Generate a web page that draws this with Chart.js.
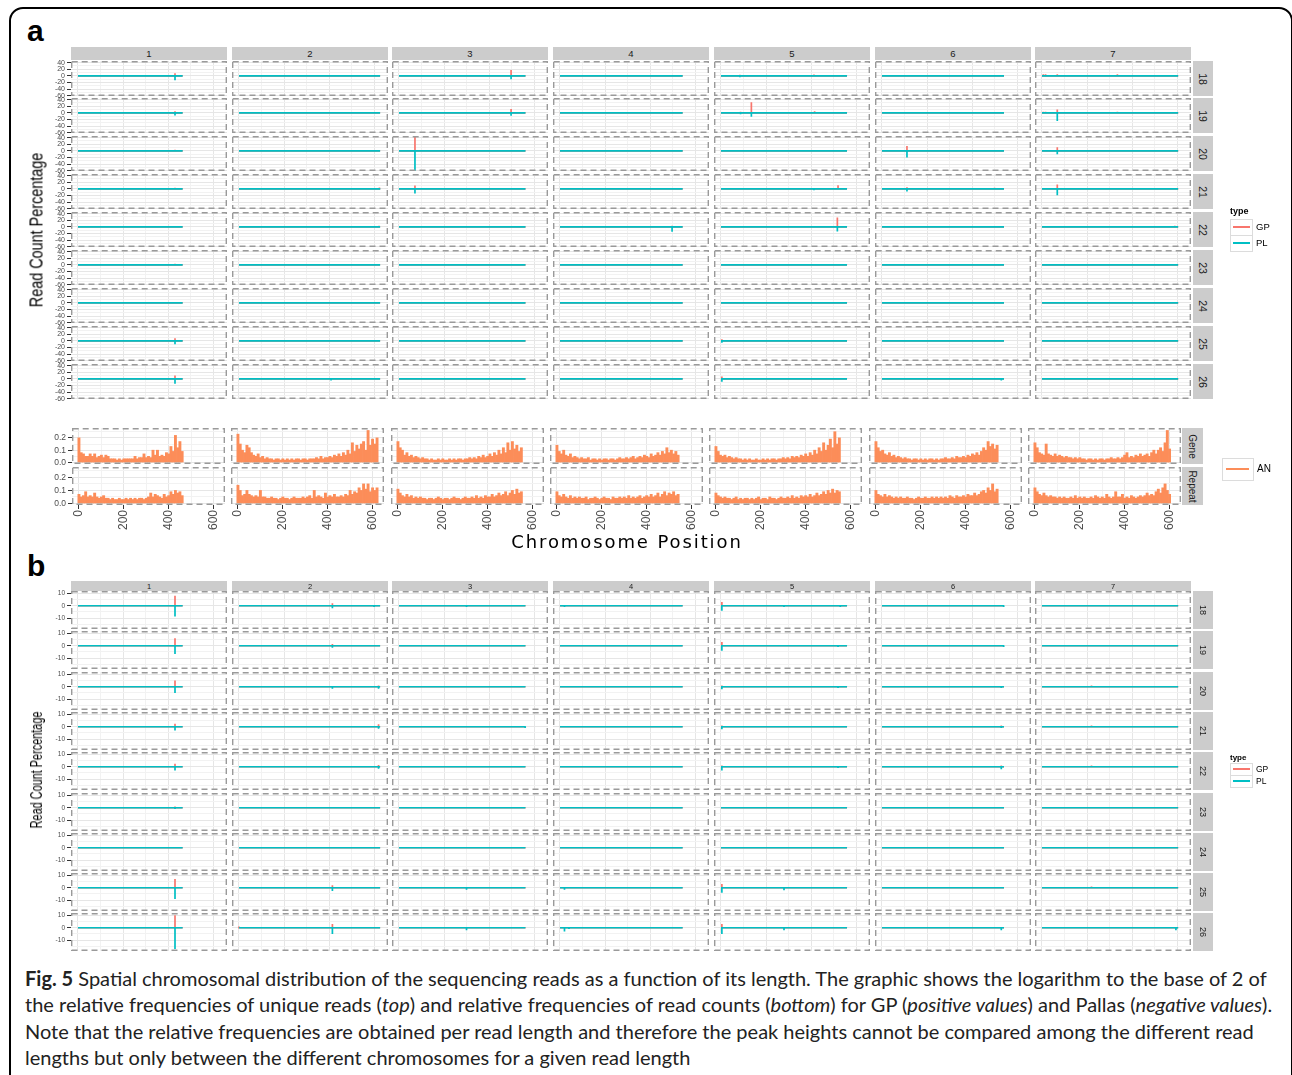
<!DOCTYPE html>
<html><head><meta charset="utf-8">
<script src="https://cdn.jsdelivr.net/npm/chart.js@4/dist/chart.umd.min.js"></script>
<style>
html,body{margin:0;padding:0;background:#fff;}
body{width:1292px;height:1075px;overflow:hidden;position:relative;font-family:'Liberation Sans',Arial,sans-serif;}
canvas{position:absolute;}
.abs{position:absolute;}
.strip{position:absolute;background:#cccccc;color:#1a1a1a;display:flex;align-items:center;justify-content:center;}
.rot{display:inline-block;transform:rotate(90deg);white-space:nowrap;}
.cap{position:absolute;left:25px;font-family:Lato,'Open Sans',sans-serif;font-size:20px;color:#222;white-space:nowrap;line-height:26px;}
</style>
</head><body>
<script>
// ---------------- DATA ----------------
const chromosomes = ['1','2','3','4','5','6','7'];
const readLengths = [18,19,20,21,22,23,24,25,26];
const chromLength = [465,627,562,545,560,542,605];
const xTicks = [0,200,400,600];
const xGrid = [0,100,200,300,400,500,600];
const yTicksTop = [-60,-40,-20,0,20,40];
const yGridTop = [-60,-50,-40,-30,-20,-10,0,10,20,30,40];
const yTicksBottom = [-10,0,10];
const yGridBottom = [-15,-10,-5,0,5,10];
const yTicksAN = [0,0.1,0.2];
const yGridAN = [0,0.05,0.1,0.15,0.2,0.25];
const seriesNames = ['GP','PL'];
const anRows = ['Gene','Repeat'];

// peaks: [readLength, chromosome, position, GP value, PL value]
const peaksTop = [
 [18,1,431,8,-13],[18,2,409,1,-2],[18,2,600,1,-1],[18,3,74,0,-2],[18,3,297,1,-1],[18,3,498,18,-10],[18,4,119,1,-2],
 [18,5,4,0,-2],[18,5,84,3,-4],[18,5,413,4,-3],[18,6,380,0,-1],[18,7,6,5,-1],[18,7,16,5,-1],[18,7,68,5,-3],[18,7,335,5,-1],
 [19,1,431,5,-8],[19,3,498,12,-9],[19,4,119,0,-1],[19,5,4,0,-3],[19,5,87,3,-4],[19,5,135,32,-12],[19,5,416,5,-2],
 [19,7,6,3,-1],[19,7,16,3,-1],[19,7,68,10,-25],[19,7,335,3,0],
 [20,1,431,3,-1],[20,3,71,43,-60],[20,3,498,2,0],[20,5,87,0,-2],[20,5,416,0,-2],[20,6,111,15,-20],[20,7,68,11,-10],[20,7,335,1,0],
 [21,1,90,0,-2],[21,1,220,0,-1],[21,1,431,3,-1],[21,2,560,0,-2],[21,2,624,4,-2],[21,3,71,10,-14],[21,3,541,0,-3],[21,4,530,0,-2],
 [21,5,413,0,-4],[21,5,492,0,-3],[21,5,520,11,-3],[21,6,111,5,-8],[21,6,380,0,-2],[21,6,500,3,-3],[21,7,68,13,-19],[21,7,150,0,-1],[21,7,520,0,-1],
 [22,1,50,0,-2],[22,1,431,2,-3],[22,2,622,3,-3],[22,3,541,2,-3],[22,4,498,3,-15],[22,5,4,0,-3],[22,5,517,28,-14],[22,6,500,0,-3],[22,7,150,1,-1],[22,7,590,3,-1],
 [23,1,431,3,-2],[23,5,517,2,-2],[23,7,150,1,-1],
 [25,1,431,8,-10],[25,2,409,0,-2],[25,3,297,0,-2],[25,5,4,5,-6],[25,5,280,0,-1],[25,6,530,0,-3],[25,7,200,0,-1],
 [26,1,431,10,-15],[26,2,409,0,-5],[26,3,297,0,-3],[26,3,540,0,-1],[26,4,20,0,-2],[26,5,4,7,-9],[26,5,280,0,-2],[26,6,530,0,-5],[26,7,595,0,-2]
];
const peaksBottom = [
 [18,1,150,0,-0.5],[18,1,431,8,-8.5],[18,2,415,2,-2],[18,2,600,0,-1],[18,3,300,0,-1],[18,4,20,0,-1],[18,5,4,3,-4],[18,5,280,0,-1],[18,5,530,0,-1],[18,6,540,0,-1],
 [19,1,431,6,-6.5],[19,2,415,1.5,-1.5],[19,5,4,3,-4],[19,5,520,0,-1],[19,6,540,0,-1],
 [20,1,431,5,-5],[20,2,415,0,-1.5],[20,2,620,1,-1.5],[20,5,4,1,-2],[20,5,520,0,-1],[20,6,530,0,-1],[20,7,220,1,0],
 [21,1,431,2.5,-3],[21,2,620,2,-1.5],[21,3,560,0,-1],[21,5,4,1,-2],[21,6,530,1,-1],[21,7,220,1,0],
 [22,1,431,2.5,-3],[22,2,620,1.5,-1.5],[22,5,4,1,-3],[22,5,520,0,-1],[22,6,530,1,-2],[22,7,220,1,0],
 [23,1,431,1,-1],
 [25,1,431,7,-9],[25,2,415,2,-2.5],[25,3,300,0,-1.5],[25,4,20,0,-1.5],[25,5,4,3,-4],[25,5,280,0,-2],[25,7,220,1,0],
 [26,1,431,10,-17],[26,2,0,1,0],[26,2,415,3,-5],[26,3,300,0,-2],[26,4,20,0,-3],[26,4,40,0,-1],[26,5,4,3,-5],[26,5,280,0,-2],[26,6,530,0,-2],[26,7,595,0,-2]
];

// AN histograms, bins of 10 starting at 0
const geneAN1 = [0.20,0.08,0.07,0.05,0.05,0.07,0.05,0.07,0.04,0.05,0.06,0.04,0.06,0.05,0.03,0.03,0.03,0.02,0.03,0.02,0.03,0.03,0.03,0.03,0.03,0.05,0.03,0.04,0.04,0.07,0.04,0.05,0.04,0.10,0.06,0.10,0.05,0.06,0.05,0.08,0.07,0.13,0.09,0.22,0.12,0.17,0.09];
const repeatAN1 = [0.07,0.05,0.06,0.09,0.05,0.06,0.05,0.08,0.05,0.04,0.05,0.06,0.04,0.04,0.03,0.04,0.03,0.03,0.04,0.03,0.03,0.04,0.03,0.04,0.03,0.04,0.03,0.04,0.04,0.03,0.04,0.05,0.08,0.05,0.07,0.06,0.05,0.04,0.07,0.05,0.06,0.09,0.07,0.10,0.08,0.09,0.06];
const geneAN2 = [0.23,0.15,0.10,0.08,0.14,0.12,0.08,0.06,0.05,0.07,0.04,0.05,0.03,0.04,0.03,0.03,0.02,0.03,0.03,0.02,0.03,0.02,0.03,0.02,0.03,0.02,0.03,0.03,0.02,0.03,0.03,0.02,0.03,0.03,0.03,0.04,0.03,0.05,0.03,0.04,0.04,0.05,0.04,0.06,0.05,0.07,0.05,0.08,0.06,0.10,0.07,0.16,0.09,0.14,0.11,0.15,0.17,0.10,0.26,0.14,0.19,0.15,0.20];
const repeatAN2 = [0.14,0.10,0.06,0.07,0.10,0.07,0.06,0.05,0.06,0.05,0.10,0.05,0.05,0.04,0.04,0.05,0.04,0.04,0.03,0.04,0.05,0.04,0.04,0.03,0.04,0.05,0.04,0.04,0.04,0.05,0.04,0.05,0.06,0.04,0.10,0.05,0.06,0.05,0.04,0.08,0.05,0.06,0.05,0.07,0.05,0.05,0.06,0.05,0.07,0.06,0.10,0.07,0.09,0.08,0.12,0.10,0.15,0.11,0.15,0.09,0.12,0.10,0.12];
const geneAN3 = [0.17,0.12,0.10,0.06,0.08,0.05,0.06,0.04,0.05,0.04,0.03,0.04,0.03,0.03,0.02,0.03,0.02,0.02,0.03,0.02,0.03,0.02,0.02,0.03,0.02,0.03,0.02,0.03,0.03,0.02,0.03,0.03,0.04,0.03,0.04,0.03,0.05,0.04,0.06,0.04,0.05,0.07,0.05,0.08,0.06,0.10,0.07,0.12,0.08,0.16,0.10,0.17,0.11,0.14,0.09,0.12];
const repeatAN3 = [0.11,0.08,0.06,0.05,0.07,0.05,0.06,0.04,0.05,0.04,0.05,0.04,0.04,0.03,0.04,0.04,0.03,0.04,0.05,0.04,0.03,0.04,0.04,0.03,0.04,0.05,0.04,0.04,0.03,0.04,0.05,0.04,0.04,0.05,0.04,0.06,0.04,0.05,0.04,0.06,0.05,0.05,0.07,0.05,0.06,0.08,0.06,0.07,0.09,0.06,0.08,0.10,0.07,0.11,0.08,0.09];
const geneAN4 = [0.14,0.09,0.07,0.10,0.06,0.05,0.07,0.04,0.05,0.04,0.03,0.04,0.03,0.03,0.04,0.02,0.03,0.03,0.02,0.03,0.02,0.03,0.03,0.02,0.03,0.03,0.02,0.03,0.04,0.03,0.03,0.04,0.03,0.04,0.05,0.03,0.04,0.05,0.04,0.06,0.05,0.04,0.07,0.05,0.06,0.08,0.06,0.09,0.07,0.12,0.08,0.10,0.07,0.09,0.06];
const repeatAN4 = [0.09,0.06,0.05,0.07,0.05,0.04,0.06,0.04,0.05,0.04,0.05,0.04,0.04,0.05,0.03,0.04,0.04,0.05,0.04,0.03,0.04,0.05,0.04,0.04,0.03,0.05,0.04,0.04,0.05,0.04,0.05,0.04,0.06,0.04,0.05,0.04,0.05,0.06,0.04,0.05,0.06,0.05,0.07,0.05,0.06,0.08,0.05,0.07,0.09,0.06,0.08,0.07,0.09,0.06,0.07];
const geneAN5 = [0.13,0.09,0.06,0.05,0.06,0.04,0.05,0.04,0.03,0.04,0.03,0.03,0.02,0.03,0.02,0.03,0.02,0.02,0.03,0.02,0.02,0.03,0.02,0.03,0.02,0.03,0.03,0.02,0.03,0.03,0.04,0.03,0.04,0.03,0.05,0.04,0.05,0.04,0.06,0.05,0.07,0.05,0.08,0.06,0.10,0.07,0.12,0.09,0.16,0.10,0.14,0.19,0.12,0.25,0.15,0.20];
const repeatAN5 = [0.08,0.06,0.05,0.04,0.05,0.04,0.04,0.03,0.04,0.05,0.03,0.04,0.03,0.04,0.04,0.03,0.04,0.03,0.04,0.05,0.03,0.04,0.04,0.03,0.05,0.04,0.04,0.03,0.04,0.05,0.04,0.04,0.05,0.04,0.06,0.04,0.05,0.04,0.06,0.05,0.06,0.05,0.07,0.05,0.06,0.08,0.06,0.07,0.09,0.07,0.10,0.08,0.11,0.08,0.10,0.09];
const geneAN6 = [0.17,0.12,0.09,0.10,0.07,0.06,0.08,0.05,0.06,0.04,0.05,0.04,0.03,0.04,0.03,0.03,0.02,0.03,0.03,0.02,0.03,0.02,0.03,0.02,0.03,0.03,0.02,0.03,0.02,0.03,0.03,0.04,0.03,0.03,0.04,0.03,0.05,0.04,0.04,0.05,0.04,0.06,0.05,0.07,0.06,0.08,0.06,0.09,0.12,0.10,0.17,0.13,0.15,0.11,0.14];
const repeatAN6 = [0.10,0.07,0.06,0.05,0.07,0.05,0.06,0.05,0.04,0.05,0.04,0.05,0.04,0.04,0.05,0.04,0.04,0.03,0.04,0.05,0.04,0.04,0.05,0.04,0.04,0.05,0.04,0.05,0.04,0.05,0.04,0.05,0.04,0.06,0.05,0.04,0.06,0.05,0.05,0.06,0.05,0.07,0.06,0.06,0.08,0.06,0.07,0.09,0.10,0.08,0.12,0.10,0.15,0.09,0.11];
const geneAN7 = [0.16,0.12,0.08,0.07,0.06,0.15,0.07,0.06,0.05,0.07,0.05,0.06,0.05,0.04,0.05,0.04,0.04,0.03,0.04,0.03,0.04,0.03,0.03,0.02,0.03,0.03,0.02,0.03,0.02,0.03,0.03,0.02,0.03,0.03,0.04,0.03,0.03,0.04,0.03,0.04,0.06,0.08,0.04,0.05,0.04,0.06,0.05,0.07,0.05,0.06,0.07,0.05,0.08,0.10,0.07,0.10,0.12,0.09,0.16,0.26,0.11];
const repeatAN7 = [0.12,0.09,0.07,0.06,0.08,0.06,0.05,0.06,0.05,0.05,0.04,0.05,0.04,0.05,0.04,0.04,0.05,0.04,0.06,0.04,0.05,0.04,0.05,0.04,0.04,0.05,0.04,0.06,0.05,0.04,0.05,0.04,0.07,0.05,0.04,0.05,0.09,0.05,0.05,0.07,0.04,0.05,0.04,0.06,0.05,0.04,0.05,0.06,0.05,0.06,0.08,0.06,0.07,0.06,0.09,0.11,0.08,0.12,0.15,0.10,0.07];
const geneAN = [geneAN1,geneAN2,geneAN3,geneAN4,geneAN5,geneAN6,geneAN7];
const repeatAN = [repeatAN1,repeatAN2,repeatAN3,repeatAN4,repeatAN5,repeatAN6,repeatAN7];
const binWidth = 10;

// ---------------- STYLE / LAYOUT ----------------
const GP_COLOR = '#F8766D', PL_COLOR = '#00BFC4', AN_COLOR = '#FC8D59';
const FONT = "'Liberation Sans', Arial, sans-serif";
const M = 8; // canvas margin around each panel

function addEl(tag, cls, css, html){
  const e = document.createElement(tag);
  if (cls) e.className = cls;
  e.style.cssText = css;
  if (html !== undefined) e.innerHTML = html;
  document.body.appendChild(e);
  return e;
}
function makeCanvas(left, top, w, h){
  const c = document.createElement('canvas');
  c.width = w; c.height = h;
  c.style.cssText = `left:${left}px;top:${top}px;width:${w}px;height:${h}px`;
  document.body.appendChild(c);
  return c;
}
const dashBorder = {
  id:'dashBorder',
  afterDraw(chart){
    const {ctx, chartArea:a} = chart;
    ctx.save();
    ctx.strokeStyle = '#9a9a9a'; ctx.lineWidth = 1.4; ctx.setLineDash([6,4]);
    ctx.strokeRect(a.left+0.7, a.top+0.7, a.right-a.left-1.4, a.bottom-a.top-1.4);
    ctx.restore();
  }
};

function facet(o){
  const padL = o.showY ? o.axisW : 0;
  const padB = o.showX ? o.axisH : 0;
  const cw = o.w + padL + 2*M, ch = o.h + padB + 2*M;
  const canvas = makeCanvas(o.left - padL - M, o.top - M, cw, ch);
  const yLab = o.yTicks, yGrid = o.yGrid;
  new Chart(canvas, {
    type: o.type,
    data: { datasets: o.datasets },
    options: {
      animation:false, responsive:false, devicePixelRatio:1, events:[],
      layout:{ padding:{ left:M, right:M, top:M, bottom:M } },
      plugins:{ legend:{display:false}, tooltip:{enabled:false} },
      scales:{
        x:{ type:'linear', min:o.xmin, max:o.xmax, offset:false,
          afterBuildTicks: s => { s.ticks = xGrid.map(v => ({value:v})); },
          afterFit: s => { s.height = padB; },
          ticks:{ display:!!o.showX, autoSkip:false, minRotation:90, maxRotation:90, padding:1,
            font:{size:12, family:FONT}, color:'#4d4d4d',
            callback: v => xTicks.includes(v) ? String(v) : '' },
          grid:{ offset:false, color: c => (c.tick && c.tick.value % 200 === 0) ? '#e6e6e6' : '#f2f2f2', lineWidth:1,
            drawTicks:!!o.showX, tickLength:4, tickWidth:1,
            tickColor: c => (c.tick && xTicks.includes(c.tick.value)) ? '#333' : 'rgba(0,0,0,0)' },
          border:{display:false}
        },
        y:{ type:'linear', min:o.ymin, max:o.ymax,
          afterBuildTicks: s => { s.ticks = yGrid.map(v => ({value:v})); },
          afterFit: s => { s.width = padL; },
          ticks:{ display:!!o.showY, autoSkip:false, padding:o.tickPad || 2,
            font:{size:o.tickFont, family:FONT}, color:'#4d4d4d',
            callback: v => yLab.includes(v) ? (o.fmt ? o.fmt(v) : String(v)) : '' },
          grid:{ color: c => (c.tick && yLab.includes(c.tick.value)) ? '#e6e6e6' : '#f2f2f2', lineWidth:1,
            drawTicks:!!o.showY, tickLength:4, tickWidth:1,
            tickColor: c => (c.tick && yLab.includes(c.tick.value)) ? '#333' : 'rgba(0,0,0,0)' },
          border:{display:false}
        }
      }
    },
    plugins:[dashBorder]
  });
}

function seriesFor(peaks, row, col, idx){
  const pts = [{x:0, y:0}];
  peaks.filter(p => p[0] === row && p[1] === col && p[idx] !== 0)
       .sort((a,b) => a[2]-b[2])
       .forEach(p => { pts.push({x:p[2],y:0},{x:p[2],y:p[idx]},{x:p[2],y:0}); });
  pts.push({x:chromLength[col-1], y:0});
  return pts;
}
function lineDatasets(peaks, row, col){
  // PL first so it is drawn on top
  return [
    { label:seriesNames[1], data:seriesFor(peaks,row,col,4), borderColor:PL_COLOR, borderWidth:1.7, showLine:true, pointRadius:0, tension:0 },
    { label:seriesNames[0], data:seriesFor(peaks,row,col,3), borderColor:GP_COLOR, borderWidth:1.7, showLine:true, pointRadius:0, tension:0 }
  ];
}

// ---------------- FRAME & LABELS ----------------
addEl('div','abs','left:9px;top:7px;width:1280px;height:1100px;border:2px solid #000;border-radius:14px;');
addEl('div','abs','left:27px;top:14px;font:bold 30px '+FONT+';color:#000;','a');
addEl('div','abs','left:27px;top:549px;font:bold 30px '+FONT+';color:#000;','b');

// ---------------- PANEL A ----------------
const colLeftA = [71,232,392,553,714,875,1035];
const panelW = 156;
const rowTopA = readLengths.map((r,i) => Math.round(60.5 + i*37.9));
const rowHA = 35;
chromosomes.forEach((c,i) => {
  addEl('div','strip',`left:${colLeftA[i]}px;top:47px;width:${panelW}px;height:13px;font-size:9.5px;`, c);
});
readLengths.forEach((r,j) => {
  addEl('div','strip',`left:1193px;top:${rowTopA[j]}px;width:20px;height:${rowHA}px;font-size:10.5px;`, `<span class="rot">${r}</span>`);
});
readLengths.forEach((r,j) => {
  chromosomes.forEach((c,i) => {
    facet({ type:'scatter', left:colLeftA[i], top:rowTopA[j], w:panelW, h:rowHA,
      xmin:-31, xmax:662, ymin:-61, ymax:45,
      yTicks:yTicksTop, yGrid:yGridTop, showY:i===0, axisW:24, tickFont:7,
      datasets: lineDatasets(peaksTop, r, i+1) });
  });
});
addEl('div','abs',`left:37px;top:230px;transform:translate(-50%,-50%) rotate(-90deg) scaleX(0.8);font-size:18px;white-space:nowrap;color:#000;`,'Read Count Percentage');

// legend A
addEl('div','abs','left:1230px;top:206px;font:bold 9px '+FONT+';color:#000;','type');
[['GP',GP_COLOR,219],['PL',PL_COLOR,235]].forEach(([n,col,t]) => {
  addEl('div','abs',`left:1230px;top:${t}px;width:21px;height:15px;border:1px solid #dcdcdc;background:#fff;`);
  addEl('div','abs',`left:1233px;top:${t+7}px;width:17px;height:2px;background:${col};`);
  addEl('div','abs',`left:1256px;top:${t+2}px;font-size:9.5px;color:#000;`, n);
});

// ---------------- AN PANELS ----------------
const colLeftAN = [72,231,391,550,709,869,1028];
const panelWAN = 153;
const rowTopAN = [428,467];
const rowHAN = [36,38];
anRows.forEach((name,j) => {
  addEl('div','strip',`left:1182px;top:${rowTopAN[j]}px;width:21px;height:${rowHAN[j]}px;font-size:10px;`, `<span class="rot">${name}</span>`);
  chromosomes.forEach((c,i) => {
    const vals = (j === 0 ? geneAN : repeatAN)[i];
    facet({ type:'bar', left:colLeftAN[i], top:rowTopAN[j], w:panelWAN, h:rowHAN[j],
      xmin:-31, xmax:651, ymin:-0.012, ymax:0.28,
      yTicks:yTicksAN, yGrid:yGridAN, showY:i===0, axisW:30, tickFont:8.5, fmt: v => v.toFixed(1),
      showX:j===1, axisH:32,
      datasets:[{ label:'AN', data: vals.map((v,k) => ({x:k*binWidth, y:v})), backgroundColor:AN_COLOR,
        borderWidth:0, barPercentage:1, categoryPercentage:1 }] });
  });
});
addEl('div','abs','left:1222px;top:458px;width:30px;height:21px;border:1px solid #dcdcdc;background:#fff;');
addEl('div','abs',`left:1226px;top:468px;width:23px;height:2px;background:${AN_COLOR};`);
addEl('div','abs','left:1257px;top:463px;font-size:10px;color:#000;','AN');
addEl('div','abs',`left:627px;top:541px;transform:translate(-50%,-50%);font-family:'DejaVu Sans',sans-serif;font-size:18px;letter-spacing:1.9px;white-space:nowrap;color:#000;`,'Chromosome Position');

// ---------------- PANEL B ----------------
const rowTopB = readLengths.map((r,i) => Math.round(591 + i*40.3));
const rowHB = 38;
chromosomes.forEach((c,i) => {
  addEl('div','strip',`left:${colLeftA[i]}px;top:581px;width:${panelW}px;height:10px;font-size:7.5px;`, c);
});
readLengths.forEach((r,j) => {
  addEl('div','strip',`left:1193px;top:${rowTopB[j]}px;width:20px;height:${rowHB}px;font-size:9px;`, `<span class="rot">${r}</span>`);
});
readLengths.forEach((r,j) => {
  chromosomes.forEach((c,i) => {
    facet({ type:'scatter', left:colLeftA[i], top:rowTopB[j], w:panelW, h:rowHB,
      xmin:-31, xmax:662, ymin:-18.6, ymax:11.8,
      yTicks:yTicksBottom, yGrid:yGridBottom, showY:i===0, axisW:24, tickFont:6.5,
      datasets: lineDatasets(peaksBottom, r, i+1) });
  });
});
addEl('div','abs',`left:37px;top:770px;transform:translate(-50%,-50%) rotate(-90deg) scaleX(0.68);font-size:16px;white-space:nowrap;color:#000;`,'Read Count Percentage');

// legend B
addEl('div','abs','left:1230px;top:753px;font:bold 8px '+FONT+';color:#000;','type');
[['GP',GP_COLOR,763],['PL',PL_COLOR,775]].forEach(([n,col,t]) => {
  addEl('div','abs',`left:1230px;top:${t}px;width:21px;height:11px;border:1px solid #dcdcdc;background:#fff;`);
  addEl('div','abs',`left:1233px;top:${t+5}px;width:17px;height:2px;background:${col};`);
  addEl('div','abs',`left:1256px;top:${t+1}px;font-size:8.5px;color:#000;`, n);
});

// ---------------- CAPTION ----------------
const captionLines = [
  '<b>Fig. 5</b> Spatial chromosomal distribution of the sequencing reads as a function of its length. The graphic shows the logarithm to the base of 2 of',
  'the relative frequencies of unique reads (<i>top</i>) and relative frequencies of read counts (<i>bottom</i>) for GP (<i>positive values</i>) and Pallas (<i>negative values</i>).',
  'Note that the relative frequencies are obtained per read length and therefore the peak heights cannot be compared among the different read',
  'lengths but only between the different chromosomes for a given read length'
];
captionLines.forEach((t,k) => addEl('div','cap',`top:${965 + k*26.4}px;`, t));
</script>
</body></html>
